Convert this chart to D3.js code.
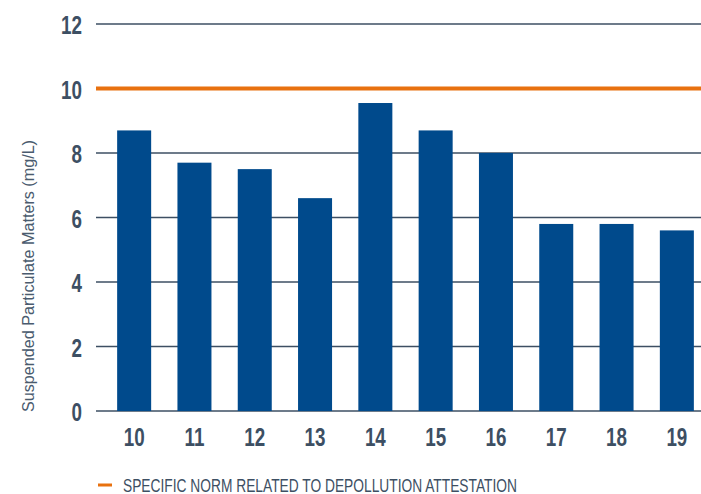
<!DOCTYPE html>
<html><head><meta charset="utf-8">
<script src="https://cdn.jsdelivr.net/npm/d3@7"></script>
<style>
body{margin:0;background:#fff;}
text{font-family:"Liberation Sans",Arial,sans-serif;}
</style></head>
<body><svg id="c" width="701" height="494"></svg>
<script>
const categories = ["10","11","12","13","14","15","16","17","18","19"];
const values = [8.7, 7.7, 7.5, 6.6, 9.55, 8.7, 8.0, 5.8, 5.8, 5.6];
const yTicks = [0, 2, 4, 6, 8, 10, 12];
const normValue = 10;
const yTitle = "Suspended Particulate Matters (mg/L)";
const legendLabel = "SPECIFIC NORM RELATED TO DEPOLLUTION ATTESTATION";

const svg = d3.select("#c");
const textCol = "#3d4f63";
const squeeze = 0.71;
const y = d3.scaleLinear().domain([0, 12]).range([411, 24]);
const x = d3.scaleBand().domain(categories).range([104, 707]).paddingInner(0.436).paddingOuter(0.218);

// gridlines
svg.append("g").selectAll("line").data(yTicks.filter(d => d !== normValue)).join("line")
  .attr("x1", 96).attr("x2", 701)
  .attr("y1", d => y(d)).attr("y2", d => y(d))
  .attr("stroke", textCol).attr("stroke-width", 1.5);

// y tick labels
svg.append("g").selectAll("text").data(yTicks).join("text")
  .attr("transform", d => `translate(82,${y(d) + 10}) scale(${squeeze},1)`)
  .attr("text-anchor", "end")
  .attr("font-size", 26.5).attr("font-weight", "bold").attr("fill", textCol)
  .text(d => d);

// bars
svg.append("g").selectAll("rect").data(values).join("rect")
  .attr("x", (d, i) => x(categories[i]))
  .attr("width", x.bandwidth())
  .attr("y", d => y(d))
  .attr("height", d => y(0) - y(d))
  .attr("fill", "#004a8c");

// norm line
svg.append("line").attr("x1", 96).attr("x2", 701)
  .attr("y1", y(normValue)).attr("y2", y(normValue))
  .attr("stroke", "#e8710f").attr("stroke-width", 4);

// x labels
svg.append("g").selectAll("text").data(categories).join("text")
  .attr("transform", d => `translate(${x(d) + x.bandwidth() / 2},446) scale(${squeeze},1)`)
  .attr("text-anchor", "middle")
  .attr("font-size", 26.5).attr("font-weight", "bold").attr("fill", textCol)
  .text(d => d);

// y title
svg.append("text")
  .attr("transform", "translate(34,276) rotate(-90)")
  .attr("text-anchor", "middle")
  .attr("font-size", 17).attr("fill", "#4a5b6e")
  .attr("textLength", 272).attr("lengthAdjust", "spacingAndGlyphs")
  .text(yTitle);

// legend
svg.append("line").attr("x1", 98).attr("x2", 112).attr("y1", 485).attr("y2", 485)
  .attr("stroke", "#e8710f").attr("stroke-width", 3);
svg.append("text").attr("x", 123).attr("y", 491.5)
  .attr("font-size", 19).attr("fill", textCol)
  .attr("textLength", 394).attr("lengthAdjust", "spacingAndGlyphs")
  .text(legendLabel);
</script></body></html>
